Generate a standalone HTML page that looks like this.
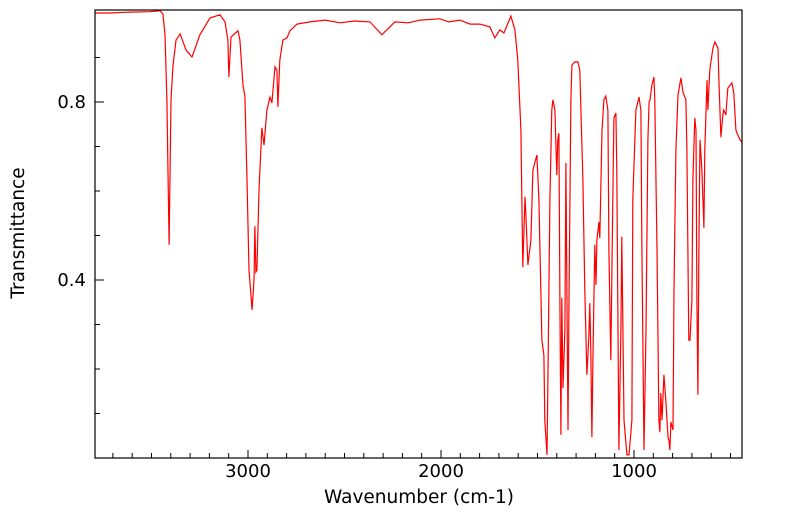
<!DOCTYPE html>
<html><head><meta charset="utf-8"><style>
body{margin:0;background:#fff;width:799px;height:516px;overflow:hidden}
svg text{font-family:"DejaVu Sans","Liberation Sans",sans-serif;fill:#000}
</style></head><body>
<svg id="chart" width="799" height="516" xmlns="http://www.w3.org/2000/svg">
<defs><clipPath id="pc"><rect x="95" y="10" width="647" height="448"/></clipPath></defs>
<g id="ticks"></g>
<polyline id="spec" fill="none" stroke="#ff0000" stroke-width="1.2" clip-path="url(#pc)"/>
<rect x="95" y="10" width="647" height="448" fill="none" stroke="#000" stroke-width="1.2"/>
<g id="labels"></g>
<text x="419" y="503" font-size="18.5" text-anchor="middle">Wavenumber (cm-1)</text>
<text transform="translate(24,233) rotate(-90)" font-size="18.5" text-anchor="middle">Transmittance</text>
</svg>
<script>
const wavenumbers=[3793,3715,3612,3508,3456,3441,3430,3420,3409,3399,3389,3373,3352,3321,3290,3249,3197,3145,3119,3104,3099,3088,3052,3042,3026,3016,3005,2995,2979,2969,2964,2959,2954,2943,2928,2917,2902,2886,2876,2860,2850,2845,2835,2819,2798,2783,2746,2679,2600,2524,2450,2368,2306,2239,2170,2109,2006,1960,1902,1850,1799,1747,1721,1695,1674,1638,1617,1602,1586,1576,1565,1560,1550,1534,1524,1503,1493,1477,1467,1462,1451,1446,1436,1426,1420,1410,1400,1395,1389,1384,1379,1374,1368,1358,1353,1342,1337,1327,1322,1306,1291,1281,1265,1255,1244,1234,1229,1224,1218,1213,1203,1197,1192,1182,1177,1166,1156,1146,1135,1130,1120,1110,1104,1094,1089,1083,1078,1068,1063,1052,1037,1026,1011,1006,990,974,964,959,948,938,928,922,917,907,897,892,881,871,866,861,855,845,835,824,819,814,809,798,793,783,772,757,746,731,726,716,710,700,695,685,679,674,669,664,658,648,638,633,622,617,607,591,581,565,560,550,540,535,524,514,493,483,472,462,451,441];
const transmittance=[1.0,1.0,1.002,1.003,1.005,0.998,0.951,0.805,0.479,0.805,0.879,0.939,0.953,0.917,0.901,0.951,0.989,0.996,0.98,0.939,0.856,0.946,0.96,0.939,0.838,0.813,0.625,0.422,0.333,0.4,0.521,0.418,0.422,0.602,0.742,0.703,0.782,0.811,0.798,0.879,0.872,0.789,0.894,0.939,0.944,0.96,0.975,0.98,0.984,0.978,0.982,0.98,0.951,0.98,0.978,0.984,0.987,0.98,0.984,0.975,0.975,0.969,0.944,0.962,0.955,0.993,0.962,0.894,0.737,0.429,0.587,0.546,0.434,0.49,0.647,0.681,0.58,0.265,0.231,0.085,0.007,0.175,0.58,0.782,0.805,0.782,0.636,0.715,0.73,0.355,0.052,0.36,0.157,0.288,0.663,0.063,0.355,0.805,0.883,0.89,0.89,0.872,0.625,0.378,0.187,0.27,0.348,0.243,0.047,0.22,0.479,0.389,0.49,0.53,0.494,0.737,0.805,0.813,0.782,0.467,0.22,0.58,0.764,0.775,0.647,0.288,0.018,0.288,0.497,0.085,0.007,0.007,0.085,0.58,0.782,0.811,0.782,0.467,0.018,0.288,0.715,0.8,0.805,0.838,0.856,0.805,0.467,0.085,0.058,0.146,0.085,0.187,0.13,0.047,0.04,0.018,0.081,0.063,0.378,0.692,0.816,0.854,0.822,0.805,0.692,0.265,0.265,0.355,0.625,0.764,0.737,0.355,0.142,0.445,0.715,0.647,0.517,0.692,0.849,0.782,0.872,0.921,0.935,0.921,0.849,0.721,0.771,0.782,0.771,0.831,0.843,0.82,0.737,0.726,0.715,0.71];
const xTickLabels=[3000,2000,1000];
const yTickLabels=[0.4,0.8];
const NS="http://www.w3.org/2000/svg";
function xs(w){return 248+(3000-w)*0.193;}
function ys(t){return 458-t*445;}
const pts=wavenumbers.map((w,i)=>xs(w).toFixed(1)+","+ys(transmittance[i]).toFixed(1)).join(" ");
document.getElementById("spec").setAttribute("points",pts);
const tg=document.getElementById("ticks"),lg=document.getElementById("labels");
function line(x1,y1,x2,y2,name){const l=document.createElementNS(NS,"line");
l.setAttribute("x1",x1);l.setAttribute("y1",y1);l.setAttribute("x2",x2);l.setAttribute("y2",y2);
l.setAttribute("stroke","#000");l.setAttribute("stroke-width","1");


tg.appendChild(l);}
for(let w=3700;w>=500;w-=100){const x=xs(w);const major=w%1000===0;line(x,458,x,major?450:453,'x-tick');}
for(let k=1;k<=10;k++){const t=k/10;const y=ys(t);const major=(k===4||k===8);line(95,y,major?104:100,y,'y-tick');}
xTickLabels.forEach(v=>{const t=document.createElementNS(NS,"text");t.setAttribute("x",xs(v));t.setAttribute("y",477);t.setAttribute("font-size","18");t.setAttribute("text-anchor","middle");t.textContent=v;


lg.appendChild(t);});
yTickLabels.forEach(v=>{const t=document.createElementNS(NS,"text");t.setAttribute("x",86);t.setAttribute("y",ys(v)+6);t.setAttribute("font-size","18");t.setAttribute("text-anchor","end");t.textContent=v.toFixed(1);


lg.appendChild(t);});
</script>
</body></html>
